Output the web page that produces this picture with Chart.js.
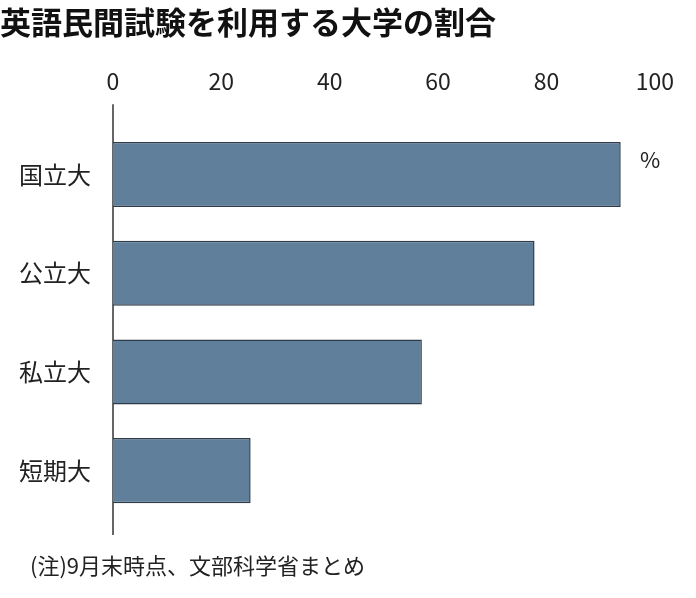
<!DOCTYPE html>
<html>
<head>
<meta charset="utf-8">
<script src="https://cdn.jsdelivr.net/npm/chart.js@4"></script>
<style>
  body { margin: 0; background: #fff; }
  #wrap { width: 696px; height: 598px; }
</style>
</head>
<body>
<div id="wrap"><canvas id="myChart"></canvas></div>
<script>
const categories = ['国立大', '公立大', '私立大', '短期大'];
const shares = [93.7, 77.8, 57, 25.4];
const tickValues = [0, 20, 40, 60, 80, 100];

const font = "'Noto Sans CJK JP', 'Noto Sans', sans-serif";

// footnote, unit label and the long zero line
const notes = {
    id: 'notes',
    beforeDatasetsDraw(chart) {
        const ctx = chart.ctx;
        const x0 = chart.scales.x.getPixelForValue(0);
        ctx.save();
        ctx.strokeStyle = '#333';
        ctx.lineWidth = 1.5;
        ctx.beginPath();
        ctx.moveTo(x0, chart.chartArea.top - 21);
        ctx.lineTo(x0, chart.chartArea.bottom + 15);
        ctx.stroke();
        ctx.restore();
    },
    afterDraw(chart) {
        const ctx = chart.ctx;
        ctx.save();
        ctx.fillStyle = '#222';
        ctx.font = '22px ' + font;
        ctx.textBaseline = 'middle';
        ctx.textAlign = 'left';
        ctx.fillText('(注)9月末時点、文部科学省まとめ', 30, 566);
        ctx.fillText('%', 640, 160);
        ctx.restore();
    }
};

const config = {
    type: 'bar',
    data: {
        labels: categories,
        datasets: [{
            data: shares,
            backgroundColor: '#5f7f9b',
            borderColor: '#2e3b48',
            borderWidth: 1.5,
            barPercentage: 0.66,
            categoryPercentage: 1
        }]
    },
    plugins: [notes],
    options: {
        indexAxis: 'y',
        responsive: true,
        maintainAspectRatio: false,
        animation: false,
        layout: { padding: { left: 0, right: 38, top: 0, bottom: 78 } },
        plugins: {
            legend: { display: false },
            tooltip: { enabled: false },
            title: {
                display: true,
                text: '英語民間試験を利用する大学の割合',
                align: 'start',
                color: '#111',
                font: { family: font, size: 31, weight: 'bold' },
                padding: { top: 4, bottom: 23 }
            }
        },
        scales: {
            x: {
                position: 'top',
                min: 0,
                max: 100,
                afterFit: s => { s.height = 61; },
                afterBuildTicks: s => { s.ticks = tickValues.map(v => ({ value: v })); },
                grid: { display: false },
                border: { display: false },
                ticks: { color: '#222', font: { family: font, size: 23 }, padding: 22 }
            },
            y: {
                afterFit: s => { s.width = 113; },
                grid: { display: false },
                border: { display: false },
                ticks: { color: '#222', font: { family: font, size: 24 }, padding: 14 }
            }
        }
    }
};

window.onload = function() {
    const ctx = document.getElementById('myChart').getContext('2d');
    new Chart(ctx, config);
};
</script>
</body>
</html>
